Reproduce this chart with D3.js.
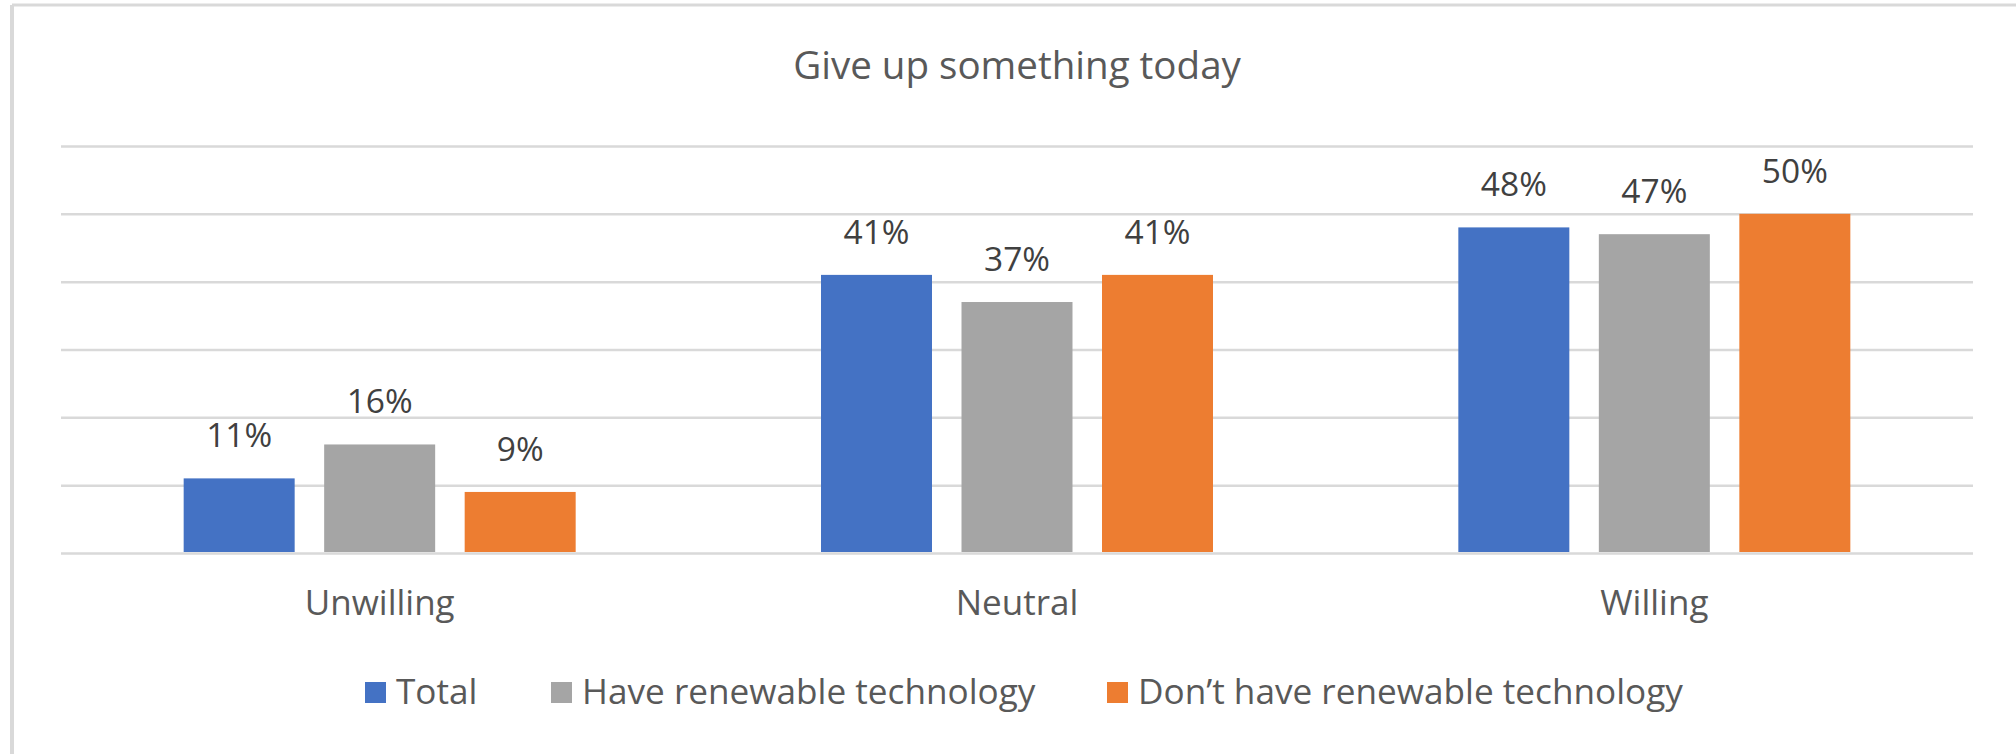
<!DOCTYPE html>
<html>
<head>
<meta charset="utf-8">
<script src="https://cdn.jsdelivr.net/npm/d3@7"></script>
<style>
  html, body { margin: 0; padding: 0; background: #fff; }
  svg { display: block; font-family: "Open Sans", "Noto Sans", sans-serif; }
</style>
</head>
<body>
<svg id="chart" width="2016" height="754"></svg>
<script>
// Survey responses: "Give up something today"
const title = "Give up something today";
const categories = ["Unwilling", "Neutral", "Willing"];
const seriesNames = ["Total", "Have renewable technology", "Don’t have renewable technology"];
const total = [0.11, 0.41, 0.48];
const haveRenewable = [0.16, 0.37, 0.47];
const dontHaveRenewable = [0.09, 0.41, 0.50];
const yTicks = [0, 0.1, 0.2, 0.3, 0.4, 0.5, 0.6];
const colors = ["#4472C4", "#A5A5A5", "#ED7D31"];

const seriesValues = [total, haveRenewable, dontHaveRenewable];
const rows = categories.map((c, i) => ({
  category: c,
  values: seriesNames.map((s, j) => ({ series: s, value: seriesValues[j][i], color: colors[j] }))
}));

const svg = d3.select("#chart");
const W = 2016, H = 754;

// Chart frame (left and top edges visible)
svg.append("line").attr("x1", 12).attr("x2", 12).attr("y1", 5).attr("y2", H)
  .attr("stroke", "#D9D9D9").attr("stroke-width", 4);
svg.append("line").attr("x1", 12).attr("x2", W).attr("y1", 5).attr("y2", 5)
  .attr("stroke", "#D9D9D9").attr("stroke-width", 3);

const plot = { left: 61, right: 1973, top: 146, bottom: 553 };

const x0 = d3.scaleBand().domain(categories).range([plot.left, plot.right]).padding(0);
const groupSpan = 392;
const x1 = d3.scaleBand().domain(seriesNames)
  .range([(x0.bandwidth() - groupSpan) / 2, (x0.bandwidth() + groupSpan) / 2])
  .paddingInner(0.21).paddingOuter(0);
const y = d3.scaleLinear().domain([0, 0.6]).range([plot.bottom, plot.top]);

// fit a font size so the sample string spans the given width
function fitSize(sample, width, weight) {
  const t = svg.append("text").attr("font-size", 100).attr("font-weight", weight || 400).text(sample);
  const w = t.node().getComputedTextLength();
  t.remove();
  return 100 * width / w;
}
const titleSize = fitSize(title, 448);
const labelSize = fitSize("11%", 66);
const catSize = fitSize("Unwilling", 150);
const legendSize = fitSize(seriesNames[2], 545);

// Gridlines
svg.append("g")
  .attr("transform", `translate(${plot.left},0)`)
  .call(d3.axisLeft(y).tickValues(yTicks).tickSize(-(plot.right - plot.left)).tickFormat(""))
  .call(g => g.select(".domain").remove())
  .call(g => g.selectAll(".tick line").attr("stroke", "#D9D9D9").attr("stroke-width", 2.5));

// Bars
const groups = svg.append("g").selectAll("g").data(rows).join("g")
  .attr("transform", d => `translate(${x0(d.category)},0)`);

groups.selectAll("rect").data(d => d.values).join("rect")
  .attr("x", d => x1(d.series))
  .attr("width", x1.bandwidth())
  .attr("y", d => y(d.value))
  .attr("height", d => y(0) - y(d.value) - 1)
  .attr("fill", d => d.color);

// Data labels
groups.selectAll("text").data(d => d.values).join("text")
  .attr("x", d => x1(d.series) + x1.bandwidth() / 2)
  .attr("y", d => y(d.value) - 31)
  .attr("text-anchor", "middle")
  .attr("font-size", labelSize)
  .attr("fill", "#404040")
  .text(d => d3.format(".0%")(d.value));

// Category axis labels
svg.append("g")
  .attr("transform", `translate(0,${plot.bottom})`)
  .call(d3.axisBottom(x0).tickSize(0).tickPadding(0))
  .call(g => g.select(".domain").remove())
  .call(g => g.selectAll(".tick text")
    .attr("y", 62).attr("dy", null)
    .attr("font-size", catSize)
    .attr("font-family", "\"Open Sans\", \"Noto Sans\", sans-serif")
    .attr("fill", "#595959"));

// Title
svg.append("text")
  .attr("x", (plot.left + plot.right) / 2 + 0)
  .attr("y", 79)
  .attr("text-anchor", "middle")
  .attr("font-size", titleSize)
  .attr("fill", "#595959")
  .text(title);

// Legend
const legendStarts = [365, 551, 1107];
const legend = svg.append("g").selectAll("g").data(seriesNames).join("g")
  .attr("transform", (d, i) => `translate(${legendStarts[i]},682)`);
legend.append("rect").attr("width", 21).attr("height", 21).attr("fill", (d, i) => colors[i]);
legend.append("text")
  .attr("x", 31).attr("y", 22)
  .attr("font-size", legendSize)
  .attr("fill", "#595959")
  .text(d => d);
</script>
</body>
</html>
